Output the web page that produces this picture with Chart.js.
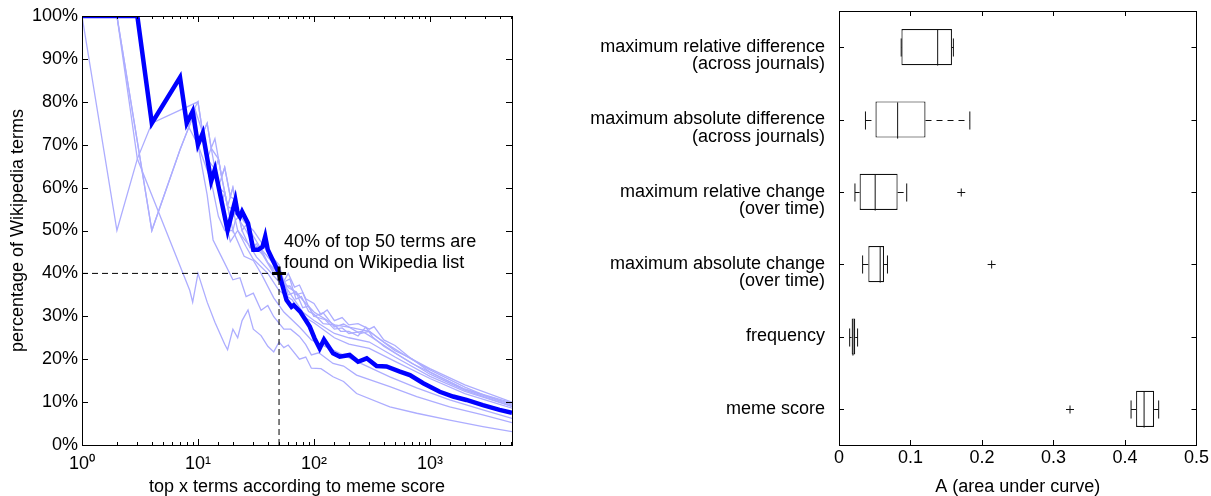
<!DOCTYPE html>
<html>
<head>
<meta charset="utf-8">
<script src="https://cdn.jsdelivr.net/npm/chart.js@4/dist/chart.umd.min.js"></script>
<style>
  body { margin: 0; background: #fff; width: 1211px; height: 496px; position: relative; overflow: hidden; }
  canvas { position: absolute; top: 0; }
  #wikiChart { left: 0; }
  #aucChart { left: 560px; }
</style>
</head>
<body>
<canvas id="wikiChart" width="560" height="496"></canvas>
<canvas id="aucChart" width="651" height="496"></canvas>
<script>
// ---- left panel: share of top x terms that are on the Wikipedia list ----
// [x, percent] pairs
const memeScoreRun = [[1,100],[3,100],[4,75],[7,85.7],[8,75],[9,77.8],[10,70],[11,72.7],[13,61.5],[14,64.3],[18,50],[21,57.1],[22,54],[23,53.2],[24,54.4],[27,51.7],[30,45.5],[33,45.5],[36,46.2],[38,48.6],[40,45.5],[50,40],[58,33.8],[64,32.2],[67,32.6],[76,31.1],[92,27.6],[101,24.9],[112,22.5],[122,24.6],[146,21.4],[167,20.6],[203,21],[240,19.4],[285,20.2],[347,18.4],[422,18.3],[551,17.1],[672,16.3],[875,14.4],[1215,12.4],[1584,11.3],[2063,10.5],[2860,9.3],[3981,8.2],[5100,7.5]];

const runA = [[1,100],[2,50],[3,66.7],[4,75],[10,80],[11,72.7],[12,75],[13,69.2],[14,71.4],[16,62.5],[17,64.7],[19,57.9],[21,57.1],[24,50],[27,51.9],[30,46.7],[35,45.7],[40,42.5],[50,40],[60,36.7],[70,35.7],[80,33.8],[100,31],[150,28],[200,27.5],[300,26.5],[400,24],[600,21],[1000,17.5],[2000,13.5],[3000,11.5],[5100,9.5]];
const runB = [[1,100],[2,100],[4,50],[7,68.8],[9.5,78],[11,72.7],[12,66.7],[14,64.3],[15,60],[17,58.8],[18,55.6],[20,55],[22,50],[25,48],[28,46.4],[32,43.8],[40,41],[50,38],[55,38.5],[60,35],[70,35.7],[80,32],[90,32.4],[100,30],[125,29.2],[150,27],[175,27.3],[200,26],[260,26.5],[300,25.5],[500,21.5],[1000,16.5],[2000,12.8],[5100,9]];
const runC = [[1,100],[3,100],[4,75],[7,85.7],[8,75],[10,80],[11,72.7],[12,75],[13,69.2],[15,66.7],[16,62.5],[17,64.7],[19,57.9],[20,60],[22,54.5],[25,52],[30,50],[40,45],[50,42],[55,38.2],[60,40],[68,36.8],[75,37.3],[85,34.1],[100,33],[115,30.4],[130,31.5],[150,29],[175,29.7],[200,28],[240,28.3],[300,27],[330,27.6],[400,24.5],[500,23.2],[700,20],[1000,17.8],[2000,14],[5100,10]];
const runD = [[1,100],[3,100],[4,75],[7,85.7],[8,75],[9,77.8],[10,70],[11,72.7],[12,66.7],[13,69.2],[15,60],[16,62.5],[18,55.6],[20,60],[21,57.1],[23,52.2],[26,50],[30,46.7],[36,44.4],[45,40],[50,41],[55,37],[62,37.1],[70,35],[80,35.5],[90,32.2],[100,30],[120,30.8],[150,27.5],[180,28.2],[250,26],[300,26.5],[350,25.1],[500,22],[700,20.1],[1000,17],[2000,13],[5100,9.8]];
const runE = [[1,100],[3,100],[4,75],[7,85.7],[8,75],[9,77.8],[10,70],[11,72.7],[13,61.5],[15,66.7],[16,62.5],[18,55.6],[19,52.6],[22,54.5],[24,50],[28,46],[32,46.9],[40,42.5],[50,39],[60,36],[80,31],[100,29],[150,26],[200,25],[300,24],[500,20.5],[1000,16],[2000,12.5],[5100,9]];
const runF = [[1,100],[3,100],[4,75],[7,85.7],[8,75],[9,77.8],[10,70],[11,72.7],[13,61.5],[14,64.3],[16,56.3],[17,58.8],[20,50],[21,52.4],[24,54],[28,50],[35,45.7],[45,42.2],[55,38],[62,38.7],[70,34],[78,34.6],[90,31.1],[100,30.5],[120,28.3],[150,28],[170,26.5],[200,26.5],[240,25.4],[280,27.5],[320,25.2],[400,23],[700,19],[1000,17],[2000,13],[5100,9.3]];
const runG = [[1,100],[3,100],[4,75],[7,85.7],[8,75],[9,77.8],[10,70],[11,72.7],[13,61.5],[14,64.3],[18,50],[19,47.4],[22,50],[26,46.2],[30,43.3],[40,40],[50,36],[65,33.8],[80,30],[100,28.5],[150,25],[200,23.5],[300,22.5],[500,19.5],[1000,15.5],[2000,12],[5100,8.6]];
const runH = [[1,100],[2,100],[3,66.7],[8.5,36],[9,33.3],[10,40],[12,33.3],[14,28.6],[17,23.5],[18,22.2],[20,27],[22,25],[24,29],[27,31.5],[30,27],[35,25.5],[40,23],[45,21.7],[50,24],[55,22.7],[60,23.3],[75,20],[85,20.5],[95,17.9],[115,17.8],[146,15.9],[180,14.8],[233,12],[451,8.9],[769,7.4],[1480,5.8],[2860,4.3],[5100,3.1]];
const runI = [[1,100],[2,100],[4,50],[7,68.8],[9.5,78],[10,70],[12,58.3],[13.5,47.8],[16,43.8],[20,38.5],[23,39],[26,34.6],[30,35.4],[35,31.4],[40,32.5],[45,29.9],[55,27],[63,27],[75,25.3],[85,23.4],[95,21],[110,21.5],[146,19],[180,18.4],[233,16.3],[451,13.6],[769,11.3],[1480,8.9],[2860,7],[5100,5.2]];
const runJ = [[1,100],[3,100],[4,75],[7,85.7],[8,75],[10,70],[13,61.5],[15,53.3],[17,50],[20,50],[25,44],[30,43],[35,40],[45,34.3],[55,31],[75,27.5],[95,24.5],[146,22.1],[233,19.5],[451,15.9],[769,13.3],[1480,10.5],[2860,8.2],[5100,6.2]];
const otherRuns = [runA, runB, runC, runD, runE, runF, runG, runH, runI, runJ];

const guideX = [[1,40],[50,40]];
const guideY = [[50,0],[50,40]];
const highlight = [[50,40]];
const highlightText = ['40% of top 50 terms are', 'found on Wikipedia list'];

const pctTicks = [0, 10, 20, 30, 40, 50, 60, 70, 80, 90, 100];
const supDigits = ['\u2070', '\u00B9', '\u00B2', '\u00B3', '\u2074'];

// ---- right panel: area under curve per ranking measure ----
const measures = [
  ['maximum relative difference', '(across journals)'],
  ['maximum absolute difference', '(across journals)'],
  ['maximum relative change', '(over time)'],
  ['maximum absolute change', '(over time)'],
  ['frequency'],
  ['meme score']
];
const whiskerLow  = [0.087, 0.037, 0.0223, 0.033, 0.0149, 0.4085];
const quart1      = [0.0873, 0.051, 0.0288, 0.041, 0.0177, 0.4155];
const medians     = [0.138, 0.082, 0.0506, 0.0576, 0.0195, 0.4267];
const quart3      = [0.158, 0.121, 0.082, 0.063, 0.0227, 0.4407];
const whiskerHigh = [0.160, 0.183, 0.0947, 0.0678, 0.026, 0.4471];
const outliers    = [[], [], [0.171], [0.2135], [], [0.3231]];

Chart.defaults.font.family = '"Liberation Sans", Arial, Helvetica, sans-serif';
Chart.defaults.font.size = 18;
Chart.defaults.color = '#000';

const toXY = pts => pts.map(p => ({ x: p[0], y: p[1] }));

// box frame plus MATLAB style ticks pointing inwards
function makeFrame(majorLen, minorLen, isMajor) {
  return {
    id: 'frame',
    afterDraw(chart) {
      const { ctx, chartArea: a, scales } = chart;
      const snap = v => Math.round(v) + 0.5;
      ctx.save();
      ctx.strokeStyle = '#000';
      ctx.lineWidth = 1;
      ctx.setLineDash([]);
      ctx.strokeRect(snap(a.left), snap(a.top), Math.round(a.right - a.left), Math.round(a.bottom - a.top));
      ctx.beginPath();
      scales.x.ticks.forEach((t, i) => {
        const px = snap(scales.x.getPixelForTick(i));
        const len = isMajor(t.value) ? majorLen : minorLen;
        ctx.moveTo(px, a.bottom); ctx.lineTo(px, a.bottom - len);
        ctx.moveTo(px, a.top); ctx.lineTo(px, a.top + len);
      });
      scales.y.ticks.forEach((t, i) => {
        const py = snap(scales.y.getPixelForTick(i));
        ctx.moveTo(a.left, py); ctx.lineTo(a.left + majorLen, py);
        ctx.moveTo(a.right, py); ctx.lineTo(a.right - majorLen, py);
      });
      ctx.stroke();
      ctx.restore();
    }
  };
}

const isPow10 = v => { const e = Math.log10(v); return Math.abs(e - Math.round(e)) < 1e-9; };

// annotation next to the highlighted point
const calloutText = {
  id: 'callout',
  afterDatasetsDraw(chart) {
    const { ctx, scales } = chart;
    const px = scales.x.getPixelForValue(highlight[0][0]);
    const py = scales.y.getPixelForValue(highlight[0][1]);
    ctx.save();
    ctx.font = '18px "Liberation Sans", Arial, sans-serif';
    ctx.fillStyle = '#000';
    ctx.textBaseline = 'middle';
    ctx.fillText(highlightText[0], px + 5, py - 31);
    ctx.fillText(highlightText[1], px + 5, py - 10);
    ctx.restore();
  }
};

new Chart(document.getElementById('wikiChart'), {
  type: 'line',
  data: {
    datasets: [
      { data: toXY(highlight), showLine: false, pointStyle: 'cross', pointRadius: 7, borderColor: '#000', borderWidth: 3, order: 0 },
      { data: toXY(guideX), borderColor: '#000', borderWidth: 1, borderDash: [6, 4], pointRadius: 0, order: 1 },
      { data: toXY(guideY), borderColor: '#000', borderWidth: 1, borderDash: [6, 4], pointRadius: 0, order: 1 },
      { data: toXY(memeScoreRun), borderColor: '#0000ff', borderWidth: 4.5, pointRadius: 0, borderJoinStyle: 'miter', order: 2 },
      ...otherRuns.map(r => ({ data: toXY(r), borderColor: '#adadff', borderWidth: 1.3, pointRadius: 0, order: 3 }))
    ]
  },
  options: {
    responsive: false,
    animation: false,
    layout: { padding: { left: 0, right: 48, top: 16, bottom: 0 } },
    plugins: { legend: { display: false }, tooltip: { enabled: false } },
    scales: {
      x: {
        type: 'logarithmic',
        min: 1,
        max: 5100,
        grid: { display: false, drawTicks: false },
        border: { display: false },
        ticks: {
          autoSkip: false, maxRotation: 0, minRotation: 0, padding: 8,
          callback: v => isPow10(v) ? '10' + supDigits[Math.round(Math.log10(v))] : ''
        },
        title: { display: true, text: 'top x terms according to meme score', padding: { top: 0, bottom: -2 } },
        afterFit: s => { s.height = 51; }
      },
      y: {
        min: 0,
        max: 100,
        afterBuildTicks: s => { s.ticks = pctTicks.map(v => ({ value: v })); },
        grid: { display: false, drawTicks: false },
        border: { display: false },
        ticks: { padding: 4, callback: v => v + '%' },
        title: { display: true, text: 'percentage of Wikipedia terms', padding: { top: 7, bottom: 0 } },
        afterFit: s => { s.width = 82; }
      }
    }
  },
  plugins: [makeFrame(6, 3, isPow10), calloutText]
});

// medians, whiskers, caps and outliers on top of the floating bars
const boxParts = {
  id: 'boxParts',
  afterDatasetsDraw(chart) {
    const { ctx, scales: { x, y } } = chart;
    const bars = chart.getDatasetMeta(0).data;
    const seg = (x1, y1, x2, y2) => { ctx.beginPath(); ctx.moveTo(x1, y1); ctx.lineTo(x2, y2); ctx.stroke(); };
    ctx.save();
    ctx.strokeStyle = '#111';
    ctx.lineWidth = 1;
    medians.forEach((m, i) => {
      const cy = Math.round(y.getPixelForValue(i)) + 0.5;
      const half = bars[i].height / 2;
      const cap = half / 2;
      const xm = x.getPixelForValue(m);
      seg(xm, cy - half, xm, cy + half);
      ctx.setLineDash([6, 5]);
      seg(x.getPixelForValue(quart3[i]), cy, x.getPixelForValue(whiskerHigh[i]), cy);
      seg(x.getPixelForValue(whiskerLow[i]), cy, x.getPixelForValue(quart1[i]), cy);
      ctx.setLineDash([]);
      const lo = x.getPixelForValue(whiskerLow[i]);
      const hi = x.getPixelForValue(whiskerHigh[i]);
      seg(lo, cy - cap, lo, cy + cap);
      seg(hi, cy - cap, hi, cy + cap);
      outliers[i].forEach(o => {
        const ox = x.getPixelForValue(o);
        seg(ox - 4, cy, ox + 4, cy);
        seg(ox, cy - 4, ox, cy + 4);
      });
    });
    ctx.restore();
  }
};

new Chart(document.getElementById('aucChart'), {
  type: 'bar',
  data: {
    labels: measures.map(m => m.length > 1 ? ['', ...m] : m),
    datasets: [{
      data: quart1.map((q, i) => [q, quart3[i]]),
      backgroundColor: '#fff',
      borderColor: '#111',
      borderWidth: 1.2,
      borderSkipped: false,
      barPercentage: 0.5,
      categoryPercentage: 1
    }]
  },
  options: {
    indexAxis: 'y',
    responsive: false,
    animation: false,
    layout: { padding: { left: 0, right: 13, top: 11, bottom: 0 } },
    plugins: { legend: { display: false }, tooltip: { enabled: false } },
    scales: {
      x: {
        min: 0,
        max: 0.5,
        grid: { display: false, drawTicks: false },
        border: { display: false },
        ticks: { stepSize: 0.1, padding: 2, maxRotation: 0 },
        title: { display: true, text: 'A (area under curve)', padding: { top: 0, bottom: -2 } },
        afterFit: s => { s.height = 51; }
      },
      y: {
        grid: { display: false, drawTicks: false },
        border: { display: false },
        ticks: { padding: 14, font: { size: 18, lineHeight: 0.95 } },
        afterFit: s => { s.width = 279; s.paddingTop = 0; s.paddingBottom = 0; }
      }
    }
  },
  plugins: [makeFrame(5, 5, () => true), boxParts]
});
</script>
</body>
</html>
